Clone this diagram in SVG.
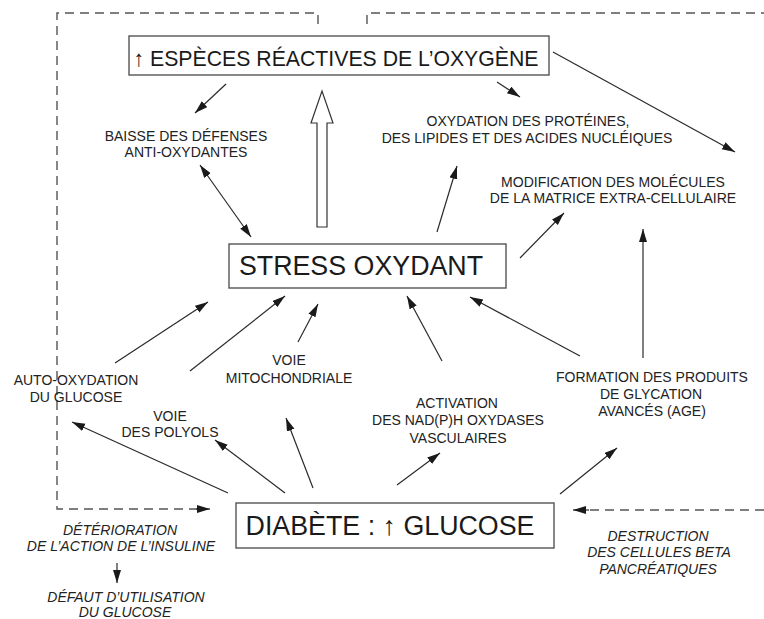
<svg xmlns="http://www.w3.org/2000/svg" width="764" height="619" viewBox="0 0 764 619">
<defs>
<marker id="ah" markerUnits="userSpaceOnUse" markerWidth="14" markerHeight="10" refX="13" refY="4" orient="auto-start-reverse">
<path d="M0,0 L13,4 L0,8 Z" fill="#1a1a1a"/>
</marker>
</defs>
<style>
.box{fill:#fff;stroke:#555;stroke-width:1.4}
.big{font-family:"Liberation Sans",Arial,sans-serif;fill:#1a1a1a;text-anchor:middle}
.lbl{font-family:"Liberation Sans",Arial,sans-serif;font-size:14px;fill:#222;text-anchor:middle}
.it{font-family:"Liberation Sans",Arial,sans-serif;font-size:14px;font-style:italic;fill:#222;text-anchor:middle}
.ln{stroke:#2a2a2a;stroke-width:1.2;fill:none}
.arr{stroke:#2a2a2a;stroke-width:1.2;fill:none;marker-end:url(#ah)}
.dash{stroke:#555;stroke-width:1.4;fill:none;stroke-dasharray:9 6}
</style>
<rect width="764" height="619" fill="#fff"/>

<g id="connectors">
<path class="arr" d="M226,84 L195,113"/>
<path class="arr" d="M497,82 L520,97"/>
<path class="arr" d="M553,52 L735,152"/>
<path class="arr" d="M200,165 L251,237" style="marker-start:url(#ah)"/>
<path class="arr" d="M437,232 L457,166"/>
<path class="arr" d="M520,258 L564,213"/>
<path class="arr" d="M643,358 L643,229"/>
<path class="arr" d="M115,363 L208,302"/>
<path class="arr" d="M190,371 L285,296"/>
<path class="arr" d="M298,342 L318,304"/>
<path class="arr" d="M442,361 L407,296"/>
<path class="arr" d="M580,356 L470,297"/>
<path class="arr" d="M228,493 L72,422"/>
<path class="arr" d="M285,493 L215,440"/>
<path class="arr" d="M313,488 L286,418"/>
<path class="arr" d="M397,485 L440,453"/>
<path class="arr" d="M560,494 L617,448"/>
<path class="arr" d="M117,563 L117,583"/>
<path class="dash" d="M318,24 L318,13 L57,13 L57,509 L200,509"/>
<path class="arr" d="M196,509 L210,509"/>
<path class="dash" d="M367,24 L367,13 L764,13"/>
<path class="dash" d="M764,510 L585,510"/>
<path class="arr" d="M589,510 L573,510"/>
<polygon points="317,227 317,123 311,123 322,91 333,123 327,123 327,227" fill="#fff" stroke="#333" stroke-width="1.2"/>
</g>

<g id="ros">
<rect class="box" x="129" y="36" width="420" height="39"/>
<text class="big" x="336" y="66" font-size="22.5" textLength="405" lengthAdjust="spacingAndGlyphs">↑ ESPÈCES RÉACTIVES DE L’OXYGÈNE</text>
</g>

<g id="stress">
<rect class="box" x="229" y="244" width="277" height="44"/>
<text class="big" x="361" y="275" font-size="26.8">STRESS OXYDANT</text>
</g>

<g id="diabete">
<rect class="box" x="236" y="503" width="318" height="45"/>
<text class="big" x="390" y="535" font-size="26.8">DIABÈTE : ↑ GLUCOSE</text>
</g>

<g id="baisse">
<text class="lbl" x="186" y="141">BAISSE DES DÉFENSES</text>
<text class="lbl" x="186" y="157">ANTI-OXYDANTES</text>
</g>

<g id="oxydation">
<text class="lbl" x="528" y="126">OXYDATION DES PROTÉINES,</text>
<text class="lbl" x="527" y="143">DES LIPIDES ET DES ACIDES NUCLÉIQUES</text>
</g>

<g id="modification">
<text class="lbl" x="613" y="187">MODIFICATION DES MOLÉCULES</text>
<text class="lbl" x="613" y="203">DE LA MATRICE EXTRA-CELLULAIRE</text>
</g>

<g id="auto">
<text class="lbl" x="76" y="385">AUTO-OXYDATION</text>
<text class="lbl" x="76" y="402">DU GLUCOSE</text>
</g>

<g id="polyols">
<text class="lbl" x="170" y="421">VOIE</text>
<text class="lbl" x="170" y="437">DES POLYOLS</text>
</g>

<g id="mito">
<text class="lbl" x="289" y="365">VOIE</text>
<text class="lbl" x="289" y="383">MITOCHONDRIALE</text>
</g>

<g id="nadph">
<text class="lbl" x="457" y="408">ACTIVATION</text>
<text class="lbl" x="458" y="425">DES NAD(P)H OXYDASES</text>
<text class="lbl" x="458" y="443">VASCULAIRES</text>
</g>

<g id="age">
<text class="lbl" x="652" y="382">FORMATION DES PRODUITS</text>
<text class="lbl" x="651" y="399">DE GLYCATION</text>
<text class="lbl" x="652" y="416">AVANCÉS (AGE)</text>
</g>

<g id="insuline">
<text class="it" x="120" y="535">DÉTÉRIORATION</text>
<text class="it" x="121" y="551">DE L’ACTION DE L’INSULINE</text>
</g>

<g id="defaut">
<text class="it" x="126" y="602">DÉFAUT D’UTILISATION</text>
<text class="it" x="125" y="617">DU GLUCOSE</text>
</g>

<g id="destruction">
<text class="it" x="658" y="541">DESTRUCTION</text>
<text class="it" x="659" y="557">DES CELLULES BETA</text>
<text class="it" x="658" y="574">PANCRÉATIQUES</text>
</g>
</svg>
